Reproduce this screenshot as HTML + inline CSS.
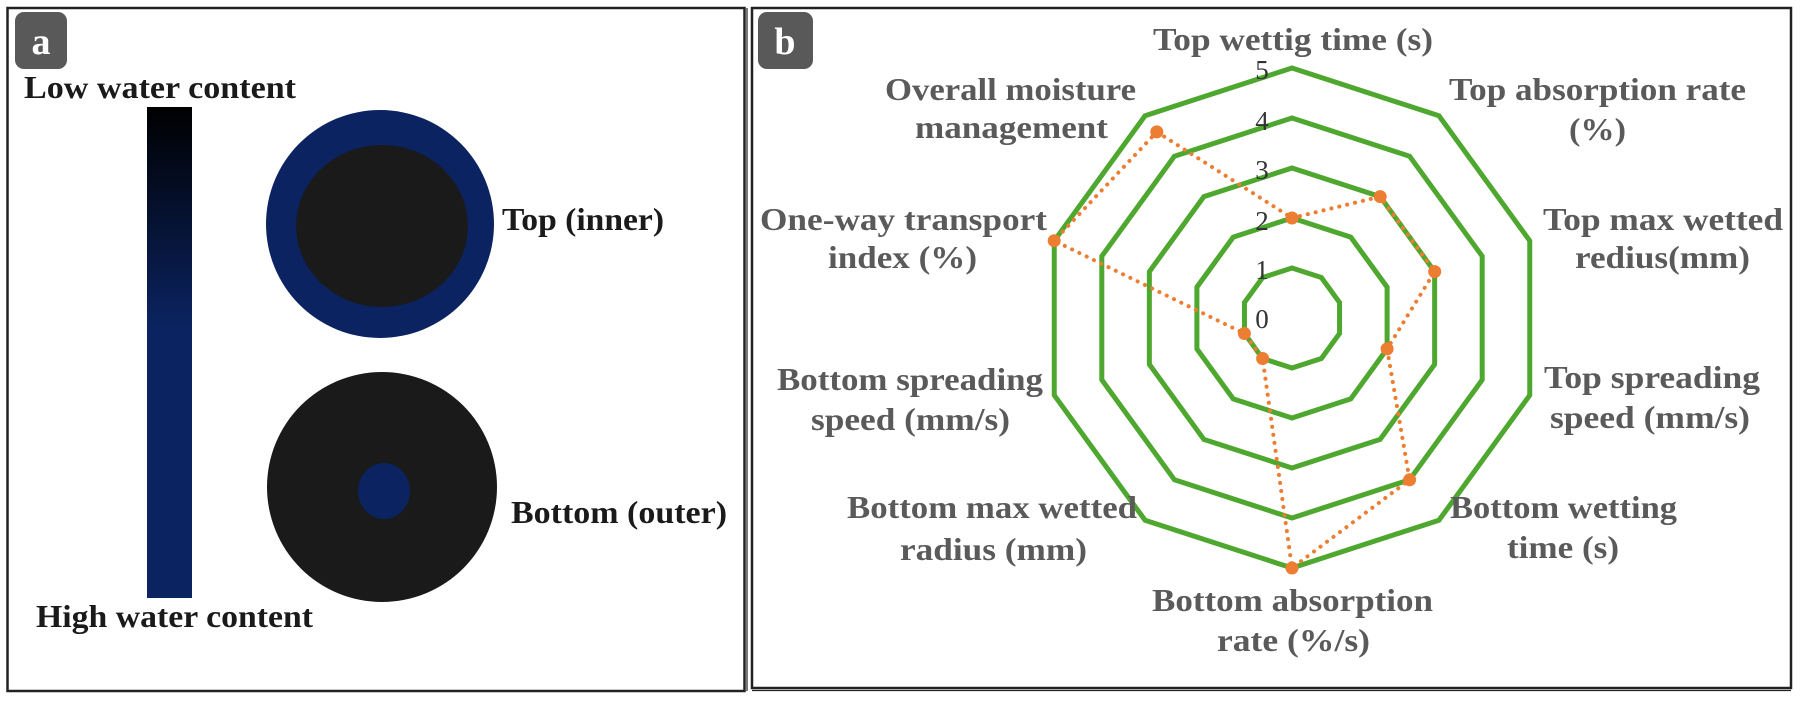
<!DOCTYPE html>
<html><head><meta charset="utf-8"><style>
html,body{margin:0;padding:0;background:#fff;}
svg{display:block;}
</style></head><body>
<svg width="1800" height="701" viewBox="0 0 1800 701" xmlns="http://www.w3.org/2000/svg">
<defs>
<linearGradient id="bar" x1="0" y1="0" x2="0" y2="1">
<stop offset="0" stop-color="#000000"/>
<stop offset="0.45" stop-color="#0b2361"/>
<stop offset="1" stop-color="#0b2361"/>
</linearGradient>
</defs>
<rect width="1800" height="701" fill="#fff"/>
<rect x="7.5" y="8" width="737" height="683" fill="none" stroke="#222" stroke-width="2.5"/>
<rect x="752" y="8" width="1039" height="680" fill="none" stroke="#222" stroke-width="2.5"/>
<line x1="747" y1="8" x2="747" y2="691" stroke="#222" stroke-width="1.2"/>
<line x1="752" y1="690.5" x2="1791" y2="690.5" stroke="#222" stroke-width="1.2"/>
<rect x="15" y="12" width="52" height="57" rx="9" fill="#595959"/>
<text x="41" y="54" text-anchor="middle" font-family="Liberation Serif, serif" font-weight="bold" font-size="38" fill="#fff">a</text>
<rect x="758" y="12" width="55" height="57" rx="9" fill="#595959"/>
<text x="785" y="54" text-anchor="middle" font-family="Liberation Serif, serif" font-weight="bold" font-size="38" fill="#fff">b</text>
<g font-family="Liberation Serif, serif" font-weight="bold" font-size="32" fill="#1a1a1a">
<text x="24" y="98" textLength="272" lengthAdjust="spacingAndGlyphs">Low water content</text>
<text x="36" y="627" textLength="277" lengthAdjust="spacingAndGlyphs">High water content</text>
<text x="502" y="230" textLength="162" lengthAdjust="spacingAndGlyphs">Top (inner)</text>
<text x="511" y="523" textLength="216" lengthAdjust="spacingAndGlyphs">Bottom (outer)</text>
</g>
<rect x="147" y="107" width="45" height="491" fill="url(#bar)"/>
<ellipse cx="380" cy="224" rx="114" ry="114" fill="#0b2361"/>
<ellipse cx="382" cy="226" rx="86" ry="81" fill="#1a1a1a"/>
<ellipse cx="382" cy="487" rx="115" ry="115" fill="#1a1a1a"/>
<ellipse cx="384" cy="491" rx="26" ry="28" fill="#0b2361"/>
<g fill="none" stroke="#4ea72e" stroke-width="5" stroke-linejoin="miter">
<polygon transform="translate(1292 318) scale(1)" vector-effect="non-scaling-stroke" points="0,-50 29.39,-40.45 47.55,-15.45 47.55,15.45 29.39,40.45 0,50 -29.39,40.45 -47.55,15.45 -47.55,-15.45 -29.39,-40.45"/>
<polygon transform="translate(1292 318) scale(2)" vector-effect="non-scaling-stroke" points="0,-50 29.39,-40.45 47.55,-15.45 47.55,15.45 29.39,40.45 0,50 -29.39,40.45 -47.55,15.45 -47.55,-15.45 -29.39,-40.45"/>
<polygon transform="translate(1292 318) scale(3)" vector-effect="non-scaling-stroke" points="0,-50 29.39,-40.45 47.55,-15.45 47.55,15.45 29.39,40.45 0,50 -29.39,40.45 -47.55,15.45 -47.55,-15.45 -29.39,-40.45"/>
<polygon transform="translate(1292 318) scale(4)" vector-effect="non-scaling-stroke" points="0,-50 29.39,-40.45 47.55,-15.45 47.55,15.45 29.39,40.45 0,50 -29.39,40.45 -47.55,15.45 -47.55,-15.45 -29.39,-40.45"/>
<polygon transform="translate(1292 318) scale(5)" vector-effect="non-scaling-stroke" points="0,-50 29.39,-40.45 47.55,-15.45 47.55,15.45 29.39,40.45 0,50 -29.39,40.45 -47.55,15.45 -47.55,-15.45 -29.39,-40.45"/>
</g>
<g font-family="Liberation Serif, serif" font-size="27" fill="#333" text-anchor="middle">
<text x="1262" y="79">5</text>
<text x="1262" y="130">4</text>
<text x="1262" y="179">3</text>
<text x="1262" y="230">2</text>
<text x="1262" y="279">1</text>
<text x="1262" y="328">0</text>
</g>
<polygon fill="none" stroke="#ed7d31" stroke-width="4" stroke-dasharray="0.1 8" stroke-linecap="round" points="1292,218 1380.2,196.6 1434.7,271.6 1387.1,348.9 1409.6,479.8 1292,568 1262.6,358.5 1244.4,333.5 1054.2,240.7 1156.8,131.9"/>
<g fill="#ed7d31">
<circle cx="1292" cy="218" r="6.5"/><circle cx="1380.2" cy="196.6" r="6.5"/><circle cx="1434.7" cy="271.6" r="6.5"/><circle cx="1387.1" cy="348.9" r="6.5"/><circle cx="1409.6" cy="479.8" r="6.5"/><circle cx="1292" cy="568" r="6.5"/><circle cx="1262.6" cy="358.5" r="6.5"/><circle cx="1244.4" cy="333.5" r="6.5"/><circle cx="1054.2" cy="240.7" r="6.5"/><circle cx="1156.8" cy="131.9" r="6.5"/>
</g>
<g font-family="Liberation Serif, serif" font-weight="bold" font-size="32" fill="#5a5a5a">
<text x="1153" y="50" textLength="280" lengthAdjust="spacingAndGlyphs">Top wettig time (s)</text>
<text x="1449" y="100" textLength="297" lengthAdjust="spacingAndGlyphs">Top absorption rate</text>
<text x="1569" y="140" textLength="57" lengthAdjust="spacingAndGlyphs">(%)</text>
<text x="1543" y="230" textLength="240" lengthAdjust="spacingAndGlyphs">Top max wetted</text>
<text x="1575" y="268" textLength="175" lengthAdjust="spacingAndGlyphs">redius(mm)</text>
<text x="1544" y="388" textLength="216" lengthAdjust="spacingAndGlyphs">Top spreading</text>
<text x="1550" y="428" textLength="200" lengthAdjust="spacingAndGlyphs">speed (mm/s)</text>
<text x="1450" y="518" textLength="227" lengthAdjust="spacingAndGlyphs">Bottom wetting</text>
<text x="1507" y="558" textLength="112" lengthAdjust="spacingAndGlyphs">time (s)</text>
<text x="1152" y="611" textLength="281" lengthAdjust="spacingAndGlyphs">Bottom absorption</text>
<text x="1217" y="651" textLength="153" lengthAdjust="spacingAndGlyphs">rate (%/s)</text>
<text x="847" y="518" textLength="290" lengthAdjust="spacingAndGlyphs">Bottom max wetted</text>
<text x="900" y="560" textLength="187" lengthAdjust="spacingAndGlyphs">radius (mm)</text>
<text x="777" y="390" textLength="266" lengthAdjust="spacingAndGlyphs">Bottom spreading</text>
<text x="811" y="430" textLength="199" lengthAdjust="spacingAndGlyphs">speed (mm/s)</text>
<text x="760" y="230" textLength="287" lengthAdjust="spacingAndGlyphs">One-way transport</text>
<text x="828" y="268" textLength="149" lengthAdjust="spacingAndGlyphs">index (%)</text>
<text x="885" y="100" textLength="251" lengthAdjust="spacingAndGlyphs">Overall moisture</text>
<text x="915" y="138" textLength="193" lengthAdjust="spacingAndGlyphs">management</text>
</g>
</svg>
</body></html>
